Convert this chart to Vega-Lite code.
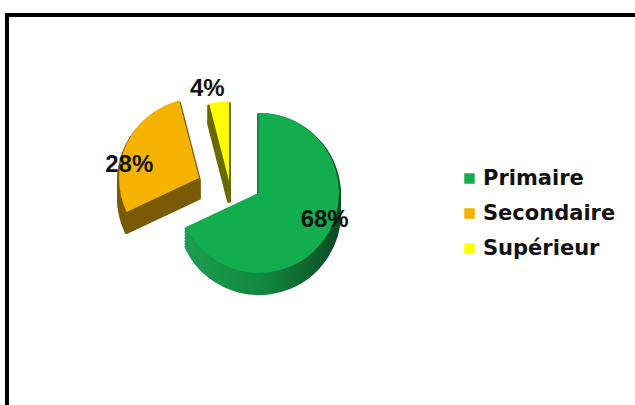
{
  "$schema": "https://vega.github.io/schema/vega-lite/v6.json",
  "autosize": {"type": "none"},
  "width": 660,
  "height": 420,
  "padding": {"left": 7, "top": 15, "right": -32, "bottom": -30},
  "background": "white",
  "view": {"stroke": "#000000", "strokeWidth": 4, "fill": "white"},
  "config": {
    "view": {"stroke": "#000000", "strokeWidth": 4, "fill": "white"},
    "legend": {
      "orient": "none",
      "legendX": 452,
      "legendY": 153,
      "title": null,
      "symbolType": "square",
      "symbolSize": 110,
      "symbolStrokeWidth": 0,
      "labelFont": "DejaVu Sans",
      "labelFontWeight": "bold",
      "labelFontSize": 21,
      "labelColor": "#111111",
      "rowPadding": 13,
      "labelOffset": 3
    }
  },
  "data": {
    "values": [
      {"cat": "Primaire", "value": 68, "label": "68%", "order": 1},
      {"cat": "Secondaire", "value": 28, "label": "28%", "order": 2},
      {"cat": "Supérieur", "value": 4, "label": "4%", "order": 3}
    ]
  },
  "transform": [
    {"stack": "value", "groupby": [], "sort": [{"field": "order", "order": "ascending"}], "as": ["v0", "v1"]}
  ],
  "layer": [
    {"transform": [{"filter": "datum.cat === 'Supérieur'"}],
     "mark": {"type": "arc", "radius": 80, "x": 252, "y": 178, "xOffset": -30, "yOffset": 8, "strokeWidth": 4, "strokeJoin": "round", "stroke": "#6A6A04", "fill": "#6A6A04"},
     "encoding": {"theta": {"field": "v0", "type": "quantitative", "scale": {"domain": [0, 100]}}, "theta2": {"field": "v1"}}},
    {"transform": [{"filter": "datum.cat === 'Supérieur'"}],
     "mark": {"type": "arc", "radius": 80, "x": 252, "y": 178, "xOffset": -30, "yOffset": 6, "strokeWidth": 4, "strokeJoin": "round", "stroke": "#6A6A04", "fill": "#6A6A04"},
     "encoding": {"theta": {"field": "v0", "type": "quantitative", "scale": {"domain": [0, 100]}}, "theta2": {"field": "v1"}}},
    {"transform": [{"filter": "datum.cat === 'Supérieur'"}],
     "mark": {"type": "arc", "radius": 80, "x": 252, "y": 178, "xOffset": -30, "yOffset": 3, "strokeWidth": 4, "strokeJoin": "round", "stroke": "#6A6A04", "fill": "#6A6A04"},
     "encoding": {"theta": {"field": "v0", "type": "quantitative", "scale": {"domain": [0, 100]}}, "theta2": {"field": "v1"}}},
    {"transform": [{"filter": "datum.cat === 'Supérieur'"}],
     "mark": {"type": "arc", "radius": 80, "x": 252, "y": 178, "xOffset": -30, "yOffset": 0, "strokeWidth": 4, "strokeJoin": "round", "stroke": "#6A6A04", "fill": "#6A6A04"},
     "encoding": {"theta": {"field": "v0", "type": "quantitative", "scale": {"domain": [0, 100]}}, "theta2": {"field": "v1"}}},
    {"transform": [{"filter": "datum.cat === 'Supérieur'"}],
     "mark": {"type": "arc", "radius": 80, "x": 252, "y": 178, "xOffset": -30, "yOffset": -3, "strokeWidth": 4, "strokeJoin": "round", "stroke": "#6A6A04", "fill": "#6A6A04"},
     "encoding": {"theta": {"field": "v0", "type": "quantitative", "scale": {"domain": [0, 100]}}, "theta2": {"field": "v1"}}},
    {"transform": [{"filter": "datum.cat === 'Supérieur'"}],
     "mark": {"type": "arc", "radius": 80, "x": 252, "y": 178, "xOffset": -30, "yOffset": -6, "strokeWidth": 4, "strokeJoin": "round", "stroke": "#6A6A04", "fill": "#6A6A04"},
     "encoding": {"theta": {"field": "v0", "type": "quantitative", "scale": {"domain": [0, 100]}}, "theta2": {"field": "v1"}}},
    {"transform": [{"filter": "datum.cat === 'Supérieur'"}],
     "mark": {"type": "arc", "radius": 80, "x": 252, "y": 178, "xOffset": -30, "yOffset": -9, "strokeWidth": 4, "strokeJoin": "round", "stroke": "#6A6A04", "fill": "#6A6A04"},
     "encoding": {"theta": {"field": "v0", "type": "quantitative", "scale": {"domain": [0, 100]}}, "theta2": {"field": "v1"}}},
    {"transform": [{"filter": "datum.cat === 'Supérieur'"}],
     "mark": {"type": "arc", "radius": 80, "x": 252, "y": 178, "xOffset": -30, "yOffset": -12},
     "encoding": {"theta": {"field": "v0", "type": "quantitative", "scale": {"domain": [0, 100]}}, "theta2": {"field": "v1"},
       "color": {"field": "cat", "type": "nominal", "sort": ["Primaire", "Secondaire", "Supérieur"], "scale": {"domain": ["Primaire", "Secondaire", "Supérieur"], "range": ["#12AE4E", "#F5B300", "#FFFF00"]}}}},

    {"transform": [{"filter": "datum.cat === 'Secondaire'"}],
     "mark": {"type": "arc", "radius": 80, "x": 252, "y": 178, "xOffset": -60, "yOffset": 5, "strokeWidth": 4, "strokeJoin": "round", "stroke": "#7A5A04", "fill": "#7A5A04"},
     "encoding": {"theta": {"field": "v0", "type": "quantitative", "scale": {"domain": [0, 100]}}, "theta2": {"field": "v1"}}},
    {"transform": [{"filter": "datum.cat === 'Secondaire'"}],
     "mark": {"type": "arc", "radius": 80, "x": 252, "y": 178, "xOffset": -60, "yOffset": 3, "strokeWidth": 4, "strokeJoin": "round", "stroke": "#7A5A04", "fill": "#7A5A04"},
     "encoding": {"theta": {"field": "v0", "type": "quantitative", "scale": {"domain": [0, 100]}}, "theta2": {"field": "v1"}}},
    {"transform": [{"filter": "datum.cat === 'Secondaire'"}],
     "mark": {"type": "arc", "radius": 80, "x": 252, "y": 178, "xOffset": -60, "yOffset": 0, "strokeWidth": 4, "strokeJoin": "round", "stroke": "#7A5A04", "fill": "#7A5A04"},
     "encoding": {"theta": {"field": "v0", "type": "quantitative", "scale": {"domain": [0, 100]}}, "theta2": {"field": "v1"}}},
    {"transform": [{"filter": "datum.cat === 'Secondaire'"}],
     "mark": {"type": "arc", "radius": 80, "x": 252, "y": 178, "xOffset": -60, "yOffset": -3, "strokeWidth": 4, "strokeJoin": "round", "stroke": "#7A5A04", "fill": "#7A5A04"},
     "encoding": {"theta": {"field": "v0", "type": "quantitative", "scale": {"domain": [0, 100]}}, "theta2": {"field": "v1"}}},
    {"transform": [{"filter": "datum.cat === 'Secondaire'"}],
     "mark": {"type": "arc", "radius": 80, "x": 252, "y": 178, "xOffset": -60, "yOffset": -6, "strokeWidth": 4, "strokeJoin": "round", "stroke": "#7A5A04", "fill": "#7A5A04"},
     "encoding": {"theta": {"field": "v0", "type": "quantitative", "scale": {"domain": [0, 100]}}, "theta2": {"field": "v1"}}},
    {"transform": [{"filter": "datum.cat === 'Secondaire'"}],
     "mark": {"type": "arc", "radius": 80, "x": 252, "y": 178, "xOffset": -60, "yOffset": -9, "strokeWidth": 4, "strokeJoin": "round", "stroke": "#7A5A04", "fill": "#7A5A04"},
     "encoding": {"theta": {"field": "v0", "type": "quantitative", "scale": {"domain": [0, 100]}}, "theta2": {"field": "v1"}}},
    {"transform": [{"filter": "datum.cat === 'Secondaire'"}],
     "mark": {"type": "arc", "radius": 80, "x": 252, "y": 178, "xOffset": -60, "yOffset": -12, "strokeWidth": 4, "strokeJoin": "round", "stroke": "#7A5A04", "fill": "#7A5A04"},
     "encoding": {"theta": {"field": "v0", "type": "quantitative", "scale": {"domain": [0, 100]}}, "theta2": {"field": "v1"}}},
    {"transform": [{"filter": "datum.cat === 'Secondaire'"}],
     "mark": {"type": "arc", "radius": 80, "x": 252, "y": 178, "xOffset": -60, "yOffset": -15},
     "encoding": {"theta": {"field": "v0", "type": "quantitative", "scale": {"domain": [0, 100]}}, "theta2": {"field": "v1"},
       "color": {"field": "cat", "type": "nominal", "sort": ["Primaire", "Secondaire", "Supérieur"], "scale": {"domain": ["Primaire", "Secondaire", "Supérieur"], "range": ["#12AE4E", "#F5B300", "#FFFF00"]}}}},

    {"transform": [{"filter": "datum.cat === 'Primaire'"}],
     "mark": {"type": "arc", "radius": 80, "x": 252, "y": 178, "yOffset": 20, "strokeWidth": 4, "strokeJoin": "round",
       "fill": {"gradient": "linear", "x1": 0, "y1": 0, "x2": 1, "y2": 0, "stops": [{"offset": 0, "color": "#1A9E50"}, {"offset": 0.5, "color": "#128840"}, {"offset": 1, "color": "#0A4A22"}]},
       "stroke": {"gradient": "linear", "x1": 0, "y1": 0, "x2": 1, "y2": 0, "stops": [{"offset": 0, "color": "#1A9E50"}, {"offset": 0.5, "color": "#128840"}, {"offset": 1, "color": "#0A4A22"}]}},
     "encoding": {"theta": {"field": "v0", "type": "quantitative", "scale": {"domain": [0, 100]}}, "theta2": {"field": "v1"}}},
    {"transform": [{"filter": "datum.cat === 'Primaire'"}],
     "mark": {"type": "arc", "radius": 80, "x": 252, "y": 178, "yOffset": 17, "strokeWidth": 4, "strokeJoin": "round",
       "fill": {"gradient": "linear", "x1": 0, "y1": 0, "x2": 1, "y2": 0, "stops": [{"offset": 0, "color": "#1A9E50"}, {"offset": 0.5, "color": "#128840"}, {"offset": 1, "color": "#0A4A22"}]},
       "stroke": {"gradient": "linear", "x1": 0, "y1": 0, "x2": 1, "y2": 0, "stops": [{"offset": 0, "color": "#1A9E50"}, {"offset": 0.5, "color": "#128840"}, {"offset": 1, "color": "#0A4A22"}]}},
     "encoding": {"theta": {"field": "v0", "type": "quantitative", "scale": {"domain": [0, 100]}}, "theta2": {"field": "v1"}}},
    {"transform": [{"filter": "datum.cat === 'Primaire'"}],
     "mark": {"type": "arc", "radius": 80, "x": 252, "y": 178, "yOffset": 14, "strokeWidth": 4, "strokeJoin": "round",
       "fill": {"gradient": "linear", "x1": 0, "y1": 0, "x2": 1, "y2": 0, "stops": [{"offset": 0, "color": "#1A9E50"}, {"offset": 0.5, "color": "#128840"}, {"offset": 1, "color": "#0A4A22"}]},
       "stroke": {"gradient": "linear", "x1": 0, "y1": 0, "x2": 1, "y2": 0, "stops": [{"offset": 0, "color": "#1A9E50"}, {"offset": 0.5, "color": "#128840"}, {"offset": 1, "color": "#0A4A22"}]}},
     "encoding": {"theta": {"field": "v0", "type": "quantitative", "scale": {"domain": [0, 100]}}, "theta2": {"field": "v1"}}},
    {"transform": [{"filter": "datum.cat === 'Primaire'"}],
     "mark": {"type": "arc", "radius": 80, "x": 252, "y": 178, "yOffset": 11, "strokeWidth": 4, "strokeJoin": "round",
       "fill": {"gradient": "linear", "x1": 0, "y1": 0, "x2": 1, "y2": 0, "stops": [{"offset": 0, "color": "#1A9E50"}, {"offset": 0.5, "color": "#128840"}, {"offset": 1, "color": "#0A4A22"}]},
       "stroke": {"gradient": "linear", "x1": 0, "y1": 0, "x2": 1, "y2": 0, "stops": [{"offset": 0, "color": "#1A9E50"}, {"offset": 0.5, "color": "#128840"}, {"offset": 1, "color": "#0A4A22"}]}},
     "encoding": {"theta": {"field": "v0", "type": "quantitative", "scale": {"domain": [0, 100]}}, "theta2": {"field": "v1"}}},
    {"transform": [{"filter": "datum.cat === 'Primaire'"}],
     "mark": {"type": "arc", "radius": 80, "x": 252, "y": 178, "yOffset": 8, "strokeWidth": 4, "strokeJoin": "round",
       "fill": {"gradient": "linear", "x1": 0, "y1": 0, "x2": 1, "y2": 0, "stops": [{"offset": 0, "color": "#1A9E50"}, {"offset": 0.5, "color": "#128840"}, {"offset": 1, "color": "#0A4A22"}]},
       "stroke": {"gradient": "linear", "x1": 0, "y1": 0, "x2": 1, "y2": 0, "stops": [{"offset": 0, "color": "#1A9E50"}, {"offset": 0.5, "color": "#128840"}, {"offset": 1, "color": "#0A4A22"}]}},
     "encoding": {"theta": {"field": "v0", "type": "quantitative", "scale": {"domain": [0, 100]}}, "theta2": {"field": "v1"}}},
    {"transform": [{"filter": "datum.cat === 'Primaire'"}],
     "mark": {"type": "arc", "radius": 80, "x": 252, "y": 178, "yOffset": 5, "strokeWidth": 4, "strokeJoin": "round",
       "fill": {"gradient": "linear", "x1": 0, "y1": 0, "x2": 1, "y2": 0, "stops": [{"offset": 0, "color": "#1A9E50"}, {"offset": 0.5, "color": "#128840"}, {"offset": 1, "color": "#0A4A22"}]},
       "stroke": {"gradient": "linear", "x1": 0, "y1": 0, "x2": 1, "y2": 0, "stops": [{"offset": 0, "color": "#1A9E50"}, {"offset": 0.5, "color": "#128840"}, {"offset": 1, "color": "#0A4A22"}]}},
     "encoding": {"theta": {"field": "v0", "type": "quantitative", "scale": {"domain": [0, 100]}}, "theta2": {"field": "v1"}}},
    {"transform": [{"filter": "datum.cat === 'Primaire'"}],
     "mark": {"type": "arc", "radius": 80, "x": 252, "y": 178, "yOffset": 2, "strokeWidth": 4, "strokeJoin": "round",
       "fill": {"gradient": "linear", "x1": 0, "y1": 0, "x2": 1, "y2": 0, "stops": [{"offset": 0, "color": "#1A9E50"}, {"offset": 0.5, "color": "#128840"}, {"offset": 1, "color": "#0A4A22"}]},
       "stroke": {"gradient": "linear", "x1": 0, "y1": 0, "x2": 1, "y2": 0, "stops": [{"offset": 0, "color": "#1A9E50"}, {"offset": 0.5, "color": "#128840"}, {"offset": 1, "color": "#0A4A22"}]}},
     "encoding": {"theta": {"field": "v0", "type": "quantitative", "scale": {"domain": [0, 100]}}, "theta2": {"field": "v1"}}},
    {"transform": [{"filter": "datum.cat === 'Primaire'"}],
     "mark": {"type": "arc", "radius": 80, "x": 252, "y": 178},
     "encoding": {"theta": {"field": "v0", "type": "quantitative", "scale": {"domain": [0, 100]}}, "theta2": {"field": "v1"},
       "color": {"field": "cat", "type": "nominal", "sort": ["Primaire", "Secondaire", "Supérieur"], "scale": {"domain": ["Primaire", "Secondaire", "Supérieur"], "range": ["#12AE4E", "#F5B300", "#FFFF00"]}}}},

    {"mark": {"type": "text", "radius": 60, "x": 252, "y": 178, "xOffset": 15, "yOffset": -5, "font": "Liberation Sans", "fontWeight": "bold", "fontSize": 24, "align": "center", "baseline": "middle", "color": "#111111"},
     "encoding": {"theta": {"field": "value", "type": "quantitative", "stack": true}, "order": {"field": "order", "type": "quantitative"},
       "text": {"condition": {"test": "datum.cat === 'Primaire'", "field": "label", "type": "nominal"}, "value": ""}}},
    {"mark": {"type": "text", "radius": 55, "x": 252, "y": 178, "xOffset": -80, "yOffset": -5, "font": "Liberation Sans", "fontWeight": "bold", "fontSize": 24, "align": "center", "baseline": "middle", "color": "#111111"},
     "encoding": {"theta": {"field": "value", "type": "quantitative", "stack": true}, "order": {"field": "order", "type": "quantitative"},
       "text": {"condition": {"test": "datum.cat === 'Secondaire'", "field": "label", "type": "nominal"}, "value": ""}}},
    {"mark": {"type": "text", "radius": 93, "x": 252, "y": 178, "xOffset": -40, "yOffset": -12, "font": "Liberation Sans", "fontWeight": "bold", "fontSize": 24, "align": "center", "baseline": "middle", "color": "#111111"},
     "encoding": {"theta": {"field": "value", "type": "quantitative", "stack": true}, "order": {"field": "order", "type": "quantitative"},
       "text": {"condition": {"test": "datum.cat === 'Supérieur'", "field": "label", "type": "nominal"}, "value": ""}}}
  ]
}
